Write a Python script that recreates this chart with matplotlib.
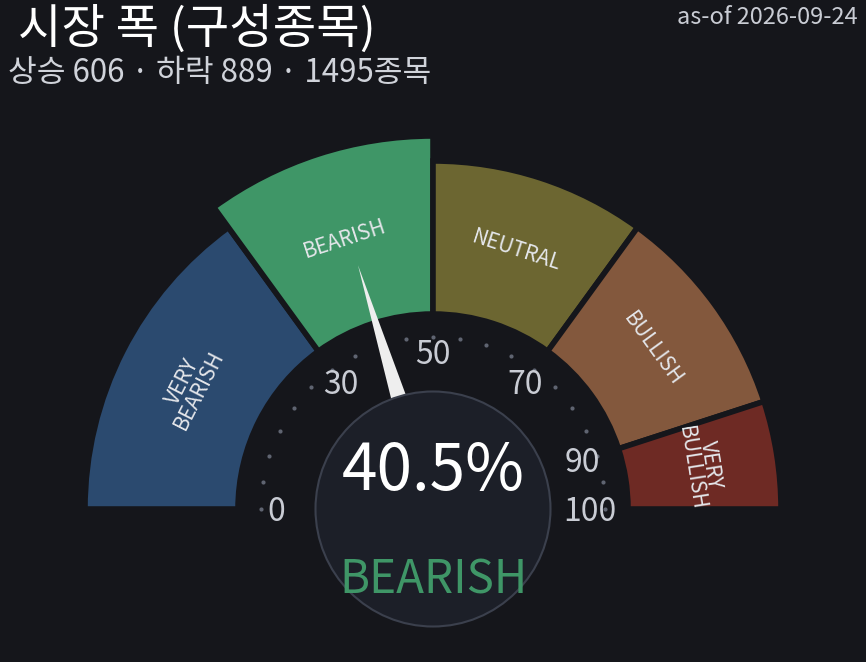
import numpy as np
import matplotlib
matplotlib.use("Agg")
import matplotlib.pyplot as plt
from matplotlib.patches import Wedge, Circle, Polygon
from matplotlib import font_manager as fm

plt.rcParams['font.family'] = ['Noto Sans CJK KR', 'DejaVu Sans']
names = sorted({(f.name, f.weight, f.fname) for f in fm.fontManager.ttflist if 'CJK' in f.name})
import sys
for n in names:
    print(n, file=sys.stderr)

# ---- data ----
title = "시장 폭 (구성종목)"
subtitle = "상승 606 · 하락 889 · 1495종목"
asof = "as-of 2026-09-24"
value = 40.5
zone_label = "BEARISH"
zone_bounds = [0, 30, 50, 70, 90, 100]
zone_names = ["VERY\nBEARISH", "BEARISH", "NEUTRAL", "BULLISH", "VERY\nBULLISH"]
zone_colors = ["#2b4a6f", "#3f9667", "#6c6631", "#83583d", "#6e2a24"]
tick_values = [0, 30, 50, 70, 90, 100]
dot_values = list(range(0, 101, 5))

# ---- style / layout ----
BG = "#15161b"
W, H = 866, 662
cx, cy = 433, 153
r_in, r_out, r_hi = 195, 348, 373
r_dots, r_ticks = 172, 157
r_hub = 117.5
r_needle = 255
FW = 'light'

def ang(v):
    return 180 - v * 1.8

fig = plt.figure(figsize=(W / 100, H / 100), dpi=100, facecolor=BG)
ax = fig.add_axes([0, 0, 1, 1])
ax.set_xlim(0, W)
ax.set_ylim(0, H)
ax.set_aspect('equal')
ax.axis('off')
ax.set_facecolor(BG)

active = None
for i in range(len(zone_names)):
    if zone_bounds[i] <= value < zone_bounds[i + 1]:
        active = i

for i, (name, col) in enumerate(zip(zone_names, zone_colors)):
    v0, v1 = zone_bounds[i], zone_bounds[i + 1]
    ro = r_hi if i == active else r_out
    w = Wedge((cx, cy), ro, ang(v1), ang(v0), width=ro - r_in,
              facecolor=col, edgecolor=BG, linewidth=4, zorder=2)
    ax.add_patch(w)
    mid = ang((v0 + v1) / 2)
    rm = (r_in + ro) / 2
    tx = cx + rm * np.cos(np.radians(mid))
    ty = cy + rm * np.sin(np.radians(mid))
    ax.text(tx, ty, name, rotation=mid - 90, rotation_mode='anchor',
            ha='center', va='center', fontsize=15, color="#e4e6ea",
            linespacing=0.8, zorder=3, fontweight=FW)

# tick dots
da = np.radians([ang(v) for v in dot_values])
ax.scatter(cx + r_dots * np.cos(da), cy + r_dots * np.sin(da), s=9,
           color="#5f6471", zorder=3, linewidths=0)

# tick labels
for v in tick_values:
    a = np.radians(ang(v))
    ax.text(cx + r_ticks * np.cos(a), cy - 3 + r_ticks * np.sin(a), str(v),
            ha='center', va='center', fontsize=23, color="#c9ccd4", zorder=4,
            fontweight=FW)

# needle
a = np.radians(ang(value))
ux, uy = np.cos(a), np.sin(a)
px, py = -uy, ux
hw = 14
needle = Polygon([(cx + px * hw, cy + py * hw),
                  (cx + ux * r_needle, cy + uy * r_needle),
                  (cx - px * hw, cy - py * hw)],
                 closed=True, facecolor="#eeeeee", edgecolor='none', zorder=5)
ax.add_patch(needle)

# hub
ax.add_patch(Circle((cx, cy), r_hub, facecolor="#1c1f28", edgecolor="#3b404d",
                    linewidth=1.5, zorder=6))

ax.text(cx, 172, f"{value}%", ha='center', va='baseline', fontsize=46,
        color="white", zorder=7, fontweight=FW)
ax.text(cx, 69, zone_label, ha='center', va='baseline', fontsize=33,
        color=zone_colors[active], zorder=7, fontweight=FW)

# titles
ax.text(18, 632, title, ha='left', va='center', fontsize=34, color="white",
        fontweight=FW)
ax.text(8, 589, subtitle, ha='left', va='center', fontsize=22.5, color="#d0d3da",
        fontweight=FW)
ax.text(858, 644, asof, ha='right', va='center', fontsize=17, color="#c9ccd4",
        fontweight=FW)

fig.savefig("out.png", dpi=100, facecolor=BG)
